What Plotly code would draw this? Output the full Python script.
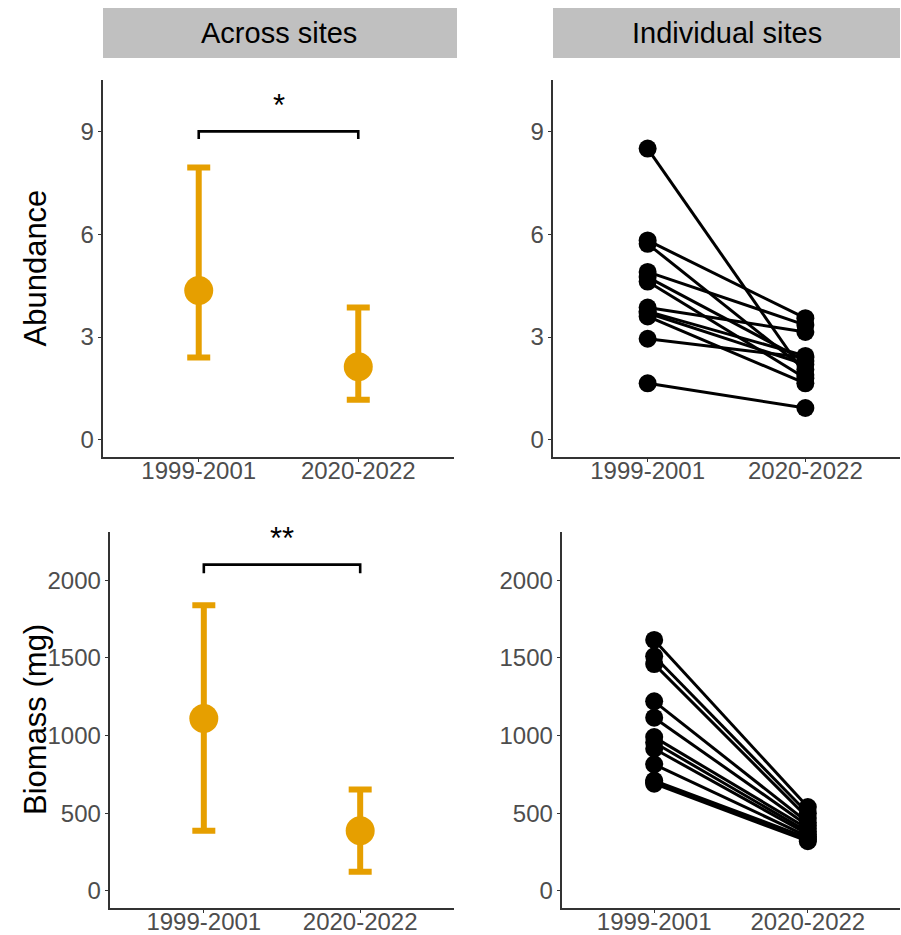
import plotly.graph_objects as go

# ---- data ----
periods = ["1999-2001", "2020-2022"]

# across-site estimates (mean with interval)
abund_mean = [4.36, 2.13]
abund_low = [2.40, 1.17]
abund_high = [7.95, 3.86]

biomass_mean = [1110, 387]
biomass_low = [387, 123]
biomass_high = [1839, 652]

# individual sites (paired values, 1999-2001 -> 2020-2022)
site_abund_early = [8.50, 5.82, 5.72, 4.90, 4.75, 4.62, 3.86, 3.75, 3.70, 3.60, 2.95, 1.65]
site_abund_late = [1.90, 3.55, 2.05, 3.35, 2.30, 1.80, 3.15, 2.45, 2.20, 1.65, 2.40, 0.93]

site_bio_early = [1615, 1510, 1460, 1220, 1115, 990, 955, 915, 815, 710, 700, 690]
site_bio_late = [540, 500, 470, 440, 420, 400, 380, 365, 350, 340, 330, 320]

abund_ticks = [0, 3, 6, 9]
bio_ticks = [0, 500, 1000, 1500, 2000]

sig_abund = "*"
sig_bio = "**"

strip_titles = ["Across sites", "Individual sites"]
y_titles = ["Abundance", "Biomass (mg)"]

# ---- layout helpers ----
W, H = 901, 935
ORANGE = "#E69F00"
FONT = "Liberation Sans, Arial, sans-serif"
xpos = [i + 1 for i in range(len(periods))]


def px_x(a, b):
    return [a / W, b / W]


def px_y(top, bottom):
    return [1 - bottom / H, 1 - top / H]


panels = {
    "tl": dict(x=px_x(103, 454), y=px_y(80, 457)),
    "tr": dict(x=px_x(553, 900), y=px_y(80, 457)),
    "bl": dict(x=px_x(110, 454), y=px_y(532, 908)),
    "br": dict(x=px_x(562, 900), y=px_y(532, 908)),
}
order = ["tl", "tr", "bl", "br"]

fig = go.Figure()


def axis_names(i):
    s = "" if i == 0 else str(i + 1)
    return "x" + s, "y" + s


def add_site_lines(early, late, ax):
    xs, ys = [], []
    for a, b in zip(early, late):
        xs += [xpos[0], xpos[1], None]
        ys += [a, b, None]
    fig.add_trace(go.Scatter(
        x=xs, y=ys, mode="lines+markers", xaxis=ax[0], yaxis=ax[1],
        line=dict(color="black", width=3),
        marker=dict(color="black", size=18),
        showlegend=False, hoverinfo="skip", connectgaps=False,
    ))


def add_summary(mean, low, high, ax):
    fig.add_trace(go.Scatter(
        x=xpos, y=mean, mode="markers", xaxis=ax[0], yaxis=ax[1],
        marker=dict(color=ORANGE, size=29),
        error_y=dict(type="data", symmetric=False,
                     array=[h - m for h, m in zip(high, mean)],
                     arrayminus=[m - l for m, l in zip(mean, low)],
                     color=ORANGE, thickness=6, width=11.5),
        showlegend=False,
    ))


ax_tl = axis_names(0)
ax_tr = axis_names(1)
ax_bl = axis_names(2)
ax_br = axis_names(3)

add_summary(abund_mean, abund_low, abund_high, ax_tl)
add_site_lines(site_abund_early, site_abund_late, ax_tr)
add_summary(biomass_mean, biomass_low, biomass_high, ax_bl)
add_site_lines(site_bio_early, site_bio_late, ax_br)

layout = dict(
    width=W, height=H, autosize=False,
    margin=dict(l=0, r=0, t=0, b=0),
    paper_bgcolor="white", plot_bgcolor="white",
    font=dict(family=FONT, color="#4D4D4D"),
    showlegend=False,
)

tick_font = dict(family=FONT, size=24, color="#4D4D4D")
for i, key in enumerate(order):
    s = "" if i == 0 else str(i + 1)
    top_row = key in ("tl", "tr")
    yr = [-0.5, 10.5] if top_row else [-110, 2310]
    yt = abund_ticks if top_row else bio_ticks
    layout["xaxis" + s] = dict(
        domain=panels[key]["x"], anchor="y" + s, range=[0.4, 2.6],
        tickvals=xpos, ticktext=periods, tickfont=tick_font,
        ticklabelstandoff=-12,
        showline=True, linecolor="#333333", linewidth=1.6,
        ticks="outside", ticklen=3.5, tickcolor="#333333", tickwidth=1.2,
        showgrid=False, zeroline=False, fixedrange=True, automargin=False,
    )
    layout["yaxis" + s] = dict(
        domain=panels[key]["y"], anchor="x" + s, range=yr,
        tickvals=yt, ticktext=[str(t) for t in yt], tickfont=tick_font,
        ticklabelstandoff=-1,
        showline=True, linecolor="#333333", linewidth=1.6,
        ticks="outside", ticklen=3.5, tickcolor="#333333", tickwidth=1.2,
        showgrid=False, zeroline=False, fixedrange=True, automargin=False,
    )
fig.update_layout(**layout)

# facet strips
shapes = []
annotations = []
strip_y = px_y(8, 58)
for key, title in zip(["tl", "tr"], strip_titles):
    x0, x1 = panels[key]["x"]
    shapes.append(dict(type="rect", xref="paper", yref="paper",
                       x0=x0, x1=x1 + (3 / W if key == "tl" else 0),
                       y0=strip_y[0], y1=strip_y[1],
                       fillcolor="#C0C0C0", line=dict(width=0), layer="below"))
    annotations.append(dict(text=title, xref="paper", yref="paper",
                            x=(x0 + x1) / 2, y=1 - 33 / H,
                            showarrow=False, xanchor="center", yanchor="middle",
                            font=dict(family=FONT, size=29, color="black")))

# y-axis titles
for key, title in zip(["tl", "bl"], y_titles):
    y0, y1 = panels[key]["y"]
    annotations.append(dict(text=title, xref="paper", yref="paper",
                            x=35 / W, y=(y0 + y1) / 2, textangle=-90,
                            showarrow=False, xanchor="center", yanchor="middle",
                            font=dict(family=FONT, size=31, color="black")))

# significance brackets
def bracket(ax, ytop, drop, label, label_y):
    xr, yr = ax
    shapes.append(dict(type="path", xref=xr, yref=yr,
                       path=f"M {xpos[0]},{ytop - drop} L {xpos[0]},{ytop} "
                            f"L {xpos[1]},{ytop} L {xpos[1]},{ytop - drop}",
                       line=dict(color="black", width=2.6)))
    annotations.append(dict(text=label, xref=xr, yref=yr,
                            x=(xpos[0] + xpos[1]) / 2, y=label_y,
                            showarrow=False, xanchor="center", yanchor="middle",
                            font=dict(family=FONT, size=31, color="black")))


bracket(ax_tl, 9.0, 0.22, sig_abund, 9.75)
bracket(ax_bl, 2100, 55, sig_bio, 2270)

fig.update_layout(shapes=shapes, annotations=annotations)

fig.write_html("out.html")
